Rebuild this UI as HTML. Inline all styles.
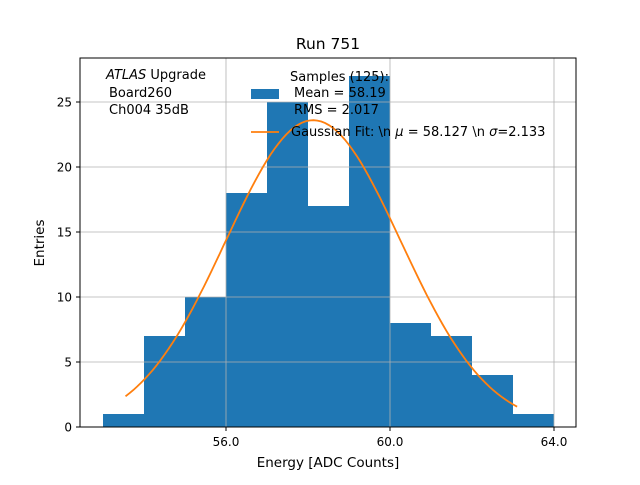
<!DOCTYPE html>
<html><head><meta charset="utf-8"><style>body{margin:0;background:#fff}svg text{font-family:"DejaVu Sans","Liberation Sans",sans-serif}</style></head>
<body>
<svg id="chart" width="640" height="480" xmlns="http://www.w3.org/2000/svg">
<rect width="640" height="480" fill="#fff"/>
<text x="328" y="49" text-anchor="middle" font-size="15.5">Run 751</text>
<g id="bars"></g>
<g id="grid"></g>
<path id="fit" fill="none" stroke="#ff7f0e" stroke-width="1.8"/>
<rect x="80" y="58" width="496" height="369" fill="none" stroke="#000" stroke-width="1"/>
<g id="ticks"></g>
<text x="328" y="467" text-anchor="middle" font-size="13.5">Energy [ADC Counts]</text>
<text x="44" y="243" text-anchor="middle" font-size="13.5" transform="rotate(-90 44 243)">Entries</text>
<g font-size="13">
<text x="106" y="79"><tspan font-style="italic">ATLAS</tspan> Upgrade</text>
<text x="109" y="97">Board260</text>
<text x="109" y="114">Ch004 35dB</text>
</g>
<g font-size="13">
<rect x="251" y="89" width="28" height="10" fill="#1f77b4"/>
<text x="290" y="81">Samples (125):</text>
<text x="294" y="97">Mean = 58.19</text>
<text x="294" y="114">RMS = 2.017</text>
<line x1="251" y1="132" x2="279" y2="132" stroke="#ff7f0e" stroke-width="1.8"/>
<text x="291" y="136">Gaussian Fit: \n <tspan font-style="italic">μ</tspan> = 58.127 \n <tspan font-style="italic">σ</tspan>=2.133</text>
</g>
</svg>
<script>
const binEdges=[53,54,55,56,57,58,59,60,61,62,63,64];
const counts=[1,7,10,18,25,17,27,8,7,4,1];
const xTicks=[56,60,64];
const xTickLabels=["56.0","60.0","64.0"];
const yTicks=[0,5,10,15,20,25];
const fitMu=[58.127];
const fitSigma=[2.133];
const fitAmp=[23.6];
const fitRange=[53.55,63.1];
const X=v=>226+(v-56)*41, Y=v=>427-v*13;
const NS="http://www.w3.org/2000/svg";
const mk=(t,a,p)=>{const e=document.createElementNS(NS,t);for(const k in a)e.setAttribute(k,a[k]);p.appendChild(e);return e;};
const bars=document.getElementById('bars'),grid=document.getElementById('grid'),ticks=document.getElementById('ticks');
counts.forEach((c,i)=>{const r=mk('rect',{x:X(binEdges[i]),y:Y(c),width:X(binEdges[i+1])-X(binEdges[i]),height:Y(0)-Y(c),fill:'#1f77b4'},bars);

});
xTicks.forEach((v,i)=>{const l=mk('line',{x1:X(v),x2:X(v),y1:58,y2:427,stroke:'#b0b0b0','stroke-width':0.8},grid);


mk('line',{x1:X(v),x2:X(v),y1:427,y2:431,stroke:'#000'},ticks);
const t=mk('text',{x:X(v),y:446,'text-anchor':'middle','font-size':12},ticks);t.textContent=xTickLabels[i];

});
yTicks.forEach(v=>{const l=mk('line',{x1:80,x2:576,y1:Y(v),y2:Y(v),stroke:'#b0b0b0','stroke-width':0.8},grid);


mk('line',{x1:76,x2:80,y1:Y(v),y2:Y(v),stroke:'#000'},ticks);
const t=mk('text',{x:72,y:Y(v)+4.5,'text-anchor':'end','font-size':12},ticks);t.textContent=v;

});
let d='';for(let i=0;i<=100;i++){const x=fitRange[0]+(fitRange[1]-fitRange[0])*i/100;const y=fitAmp[0]*Math.exp(-((x-fitMu[0])**2)/(2*fitSigma[0]**2));d+=(i?'L':'M')+X(x).toFixed(1)+' '+Y(y).toFixed(1);}
document.getElementById('fit').setAttribute('d',d);
</script>
</body></html>
